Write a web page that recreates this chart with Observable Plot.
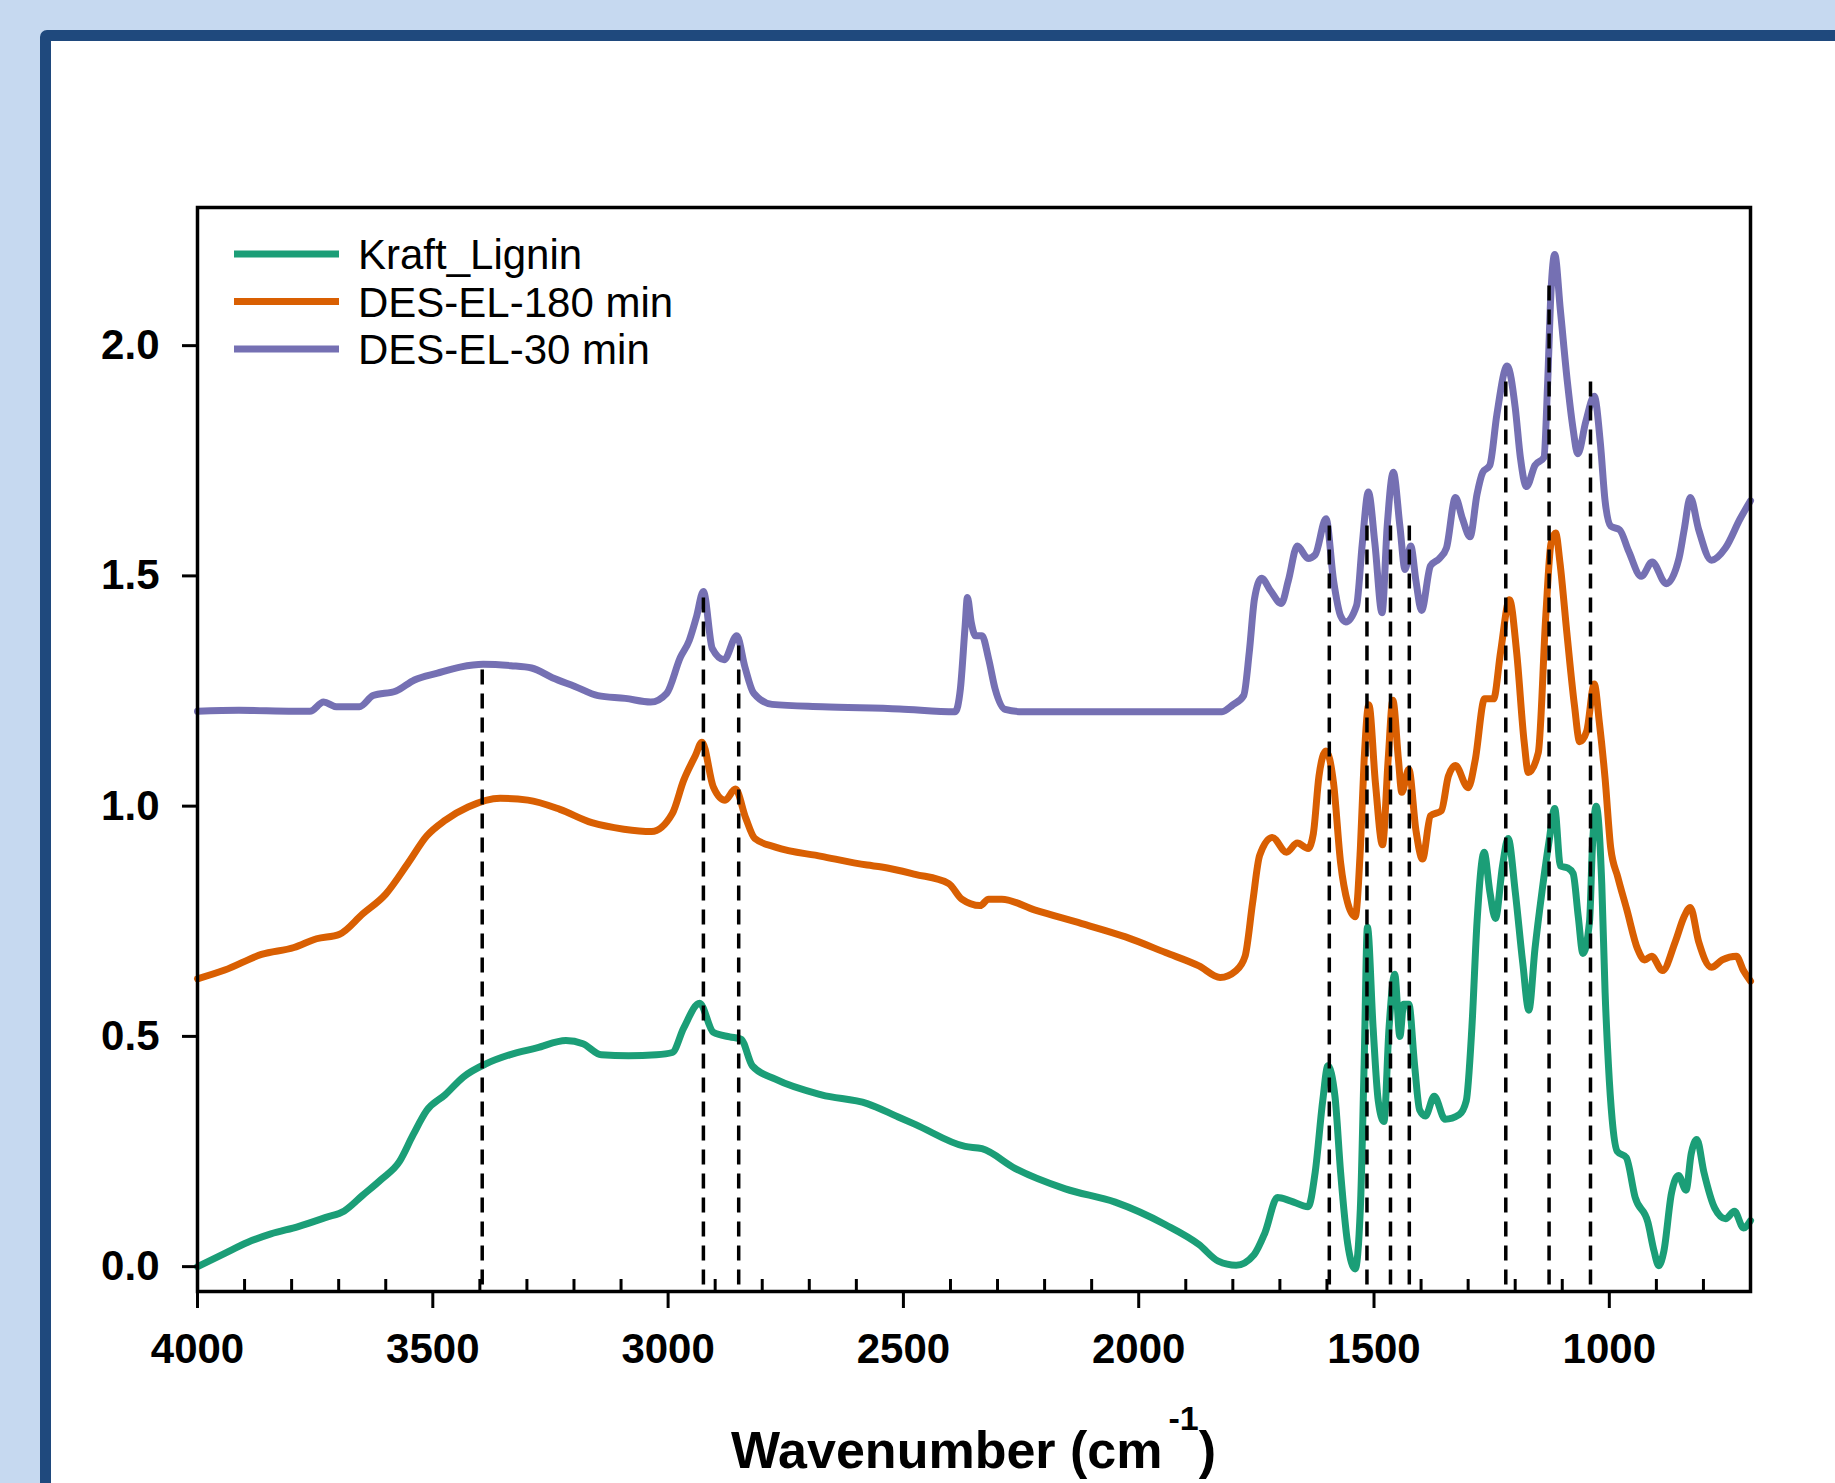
<!DOCTYPE html>
<html><head><meta charset="utf-8">
<script src="https://cdn.jsdelivr.net/npm/d3@7"></script>
<script src="https://cdn.jsdelivr.net/npm/@observablehq/plot@0.6"></script>
<style>
html,body{margin:0;padding:0;background:#c6d9f0;overflow:hidden;width:1835px;height:1483px;}
#panel{position:absolute;left:40px;top:30px;width:2000px;height:2000px;background:#fff;border:11px solid #1f497d;border-radius:7px;}
#chart{position:absolute;left:0;top:0;}
</style></head><body>
<div id="panel"></div>
<div id="chart"></div>
<script>
// ---- data ----
const seriesNames = ["Kraft_Lignin", "DES-EL-180 min", "DES-EL-30 min"];
const seriesColors = ["#1b9e77", "#d95f02", "#7570b3"];

const kraftWn = [4000,3942,3893,3844,3786,3727,3688,3649,3610,3571,3542,3513,3474,3435,3386,3337,3279,3217,3181,3142,3084,3025,2991,2967,2933,2904,2869,2845,2821,2772,2674,2577,2511,2475,2369,2333,2262,2156,2050,1943,1872,1831,1793,1755,1732,1705,1678,1640,1625,1609,1598,1583,1571,1556,1540,1529,1521,1514,1502,1491,1479,1468,1456,1445,1437,1426,1414,1403,1391,1372,1349,1319,1304,1292,1281,1266,1254,1242,1227,1215,1200,1184,1171,1158,1143,1128,1116,1104,1089,1077,1066,1056,1042,1036,1028,1016,1009,1002,994,983,964,945,918,905,895,884,868,853,837,826,814,799,776,753,734,715,700];
const kraftAbs = [0.0,0.029,0.053,0.071,0.087,0.107,0.121,0.155,0.189,0.228,0.286,0.339,0.373,0.412,0.441,0.46,0.475,0.491,0.484,0.46,0.458,0.46,0.465,0.518,0.572,0.509,0.499,0.494,0.436,0.407,0.373,0.354,0.325,0.309,0.261,0.256,0.213,0.169,0.14,0.091,0.048,0.012,0.003,0.026,0.073,0.15,0.143,0.13,0.205,0.36,0.436,0.37,0.205,0.05,-0.005,0.127,0.44,0.737,0.52,0.36,0.315,0.52,0.635,0.50,0.57,0.57,0.44,0.34,0.327,0.37,0.32,0.33,0.36,0.52,0.75,0.90,0.815,0.756,0.87,0.93,0.815,0.66,0.557,0.69,0.815,0.924,0.995,0.87,0.866,0.854,0.76,0.68,0.75,0.91,1.0,0.83,0.596,0.44,0.32,0.25,0.237,0.15,0.096,0.034,0.002,0.034,0.159,0.198,0.166,0.245,0.276,0.205,0.127,0.104,0.12,0.084,0.10];

const des180Wn = [4000,3942,3864,3795,3747,3698,3649,3600,3552,3513,3474,3425,3357,3298,3230,3162,3094,3035,2991,2967,2942,2928,2904,2879,2857,2835,2816,2772,2674,2577,2546,2475,2404,2376,2337,2319,2291,2220,2121,2028,1943,1872,1827,1793,1774,1758,1743,1716,1686,1663,1640,1629,1617,1602,1586,1571,1556,1540,1529,1521,1511,1497,1482,1470,1460,1448,1441,1426,1411,1397,1380,1357,1342,1327,1300,1285,1265,1246,1231,1212,1197,1181,1172,1151,1135,1124,1114,1105,1090,1074,1063,1048,1032,1021,1009,997,982,963,940,925,910,887,860,841,828,810,783,760,730,715,700];
const des180Abs = [0.625,0.644,0.678,0.693,0.712,0.722,0.766,0.809,0.877,0.935,0.969,0.998,1.017,1.013,0.993,0.964,0.95,0.945,0.984,1.056,1.11,1.139,1.042,1.013,1.037,0.974,0.93,0.911,0.891,0.872,0.868,0.852,0.832,0.798,0.784,0.798,0.798,0.774,0.745,0.716,0.682,0.653,0.628,0.643,0.674,0.79,0.893,0.932,0.90,0.92,0.908,0.94,1.065,1.12,1.05,0.877,0.79,0.76,0.908,1.10,1.22,1.05,0.916,1.10,1.23,1.10,1.03,1.08,0.948,0.885,0.979,0.99,1.065,1.088,1.04,1.10,1.233,1.233,1.335,1.448,1.335,1.14,1.073,1.116,1.413,1.57,1.593,1.53,1.374,1.218,1.14,1.163,1.265,1.18,1.06,0.909,0.846,0.776,0.69,0.666,0.674,0.643,0.705,0.76,0.78,0.705,0.65,0.666,0.674,0.643,0.62];

const des30Wn = [4000,3912,3795,3761,3732,3705,3656,3627,3578,3539,3490,3442,3393,3334,3290,3246,3198,3149,3091,3037,3003,2974,2955,2940,2925,2906,2881,2854,2837,2818,2779,2672,2508,2390,2379,2369,2364,2356,2347,2333,2319,2305,2284,2248,1823,1800,1777,1765,1754,1739,1720,1697,1682,1663,1640,1625,1602,1586,1571,1560,1537,1525,1512,1498,1483,1472,1459,1445,1434,1422,1411,1399,1380,1361,1346,1327,1312,1296,1281,1269,1254,1239,1217,1200,1189,1176,1158,1139,1131,1124,1116,1104,1089,1077,1067,1050,1032,1019,1009,997,978,959,932,909,879,852,841,828,810,783,753,722,700];
const des30Abs = [1.206,1.208,1.206,1.206,1.226,1.216,1.216,1.24,1.25,1.274,1.289,1.302,1.308,1.305,1.30,1.279,1.26,1.24,1.234,1.226,1.245,1.323,1.36,1.41,1.466,1.342,1.318,1.37,1.303,1.245,1.221,1.216,1.211,1.205,1.254,1.389,1.453,1.40,1.37,1.37,1.32,1.254,1.21,1.205,1.205,1.22,1.24,1.335,1.45,1.495,1.468,1.44,1.49,1.565,1.538,1.546,1.624,1.49,1.413,1.40,1.436,1.569,1.682,1.569,1.42,1.608,1.725,1.608,1.514,1.565,1.49,1.425,1.522,1.538,1.561,1.67,1.624,1.585,1.678,1.725,1.74,1.85,1.956,1.866,1.757,1.694,1.74,1.757,1.92,2.116,2.198,2.077,1.92,1.819,1.765,1.835,1.89,1.788,1.663,1.608,1.60,1.554,1.499,1.53,1.483,1.538,1.60,1.67,1.60,1.534,1.561,1.624,1.663];

// dashed marker lines: wavenumber, top absorbance
const markerWn = [3395, 2925, 2850, 1595, 1515, 1465, 1425, 1220, 1128, 1040];
const markerTop = [1.30, 1.46, 1.36, 1.62, 1.62, 1.62, 1.62, 1.93, 2.13, 1.93];
const markerBottom = -0.04;

const xMajorTicks = [1000, 1500, 2000, 2500, 3000, 3500, 4000];
const xMinorTicks = d3.range(800, 4000, 100).filter(d => d % 500 !== 0);
const yTicks = [0, 0.5, 1.0, 1.5, 2.0];
const xLabelMain = "Wavenumber (cm";
const xLabelSup = "-1";
const xLabelEnd = ")";

// ---- build tables ----
const rows = [];
[[kraftWn, kraftAbs], [des180Wn, des180Abs], [des30Wn, des30Abs]].forEach(([w, a], i) => {
  w.forEach((wn, j) => rows.push({series: seriesNames[i], wn, abs: a[j]}));
});
const markers = markerWn.map((wn, i) => ({wn, top: markerTop[i]}));

const W = 1835, H = 1483;
const mL = 197, mR = 85, mT = 207, mB = 192;
const plotH = H - mT - mB;

const chart = Plot.plot({
  width: W, height: H,
  marginLeft: mL, marginRight: mR, marginTop: mT, marginBottom: mB,
  style: {background: "transparent", fontFamily: "'Liberation Sans', Arial, sans-serif", overflow: "visible", color: "black"},
  x: {domain: [4000, 700]},
  y: {domain: [-0.054, 2.30]},
  color: {domain: seriesNames, range: seriesColors},
  marks: [
    Plot.line(rows, {x: "wn", y: "abs", z: "series", stroke: "series", strokeWidth: 7, curve: "monotone-x", strokeLinejoin: "round", strokeLinecap: "round"}),
    Plot.ruleX(markers, {x: "wn", y1: markerBottom, y2: "top", stroke: "black", strokeWidth: 3.5, strokeDasharray: "15,9"}),
    Plot.tickX(xMinorTicks, {x: d => d, stroke: "black", strokeWidth: 3, insetTop: plotH - 12}),
    Plot.frame({stroke: "black", strokeWidth: 3.5}),
    Plot.axisX({ticks: xMajorTicks, tickSize: 17, tickPadding: 25, tickFormat: d => String(d), fontSize: 42, fontWeight: "bold", strokeWidth: 3, label: null}),
    Plot.axisY({ticks: yTicks, tickSize: 15, tickPadding: 23, tickFormat: d3.format(".1f"), fontSize: 42, fontWeight: "bold", strokeWidth: 3, label: null})
  ]
});
document.getElementById("chart").appendChild(chart);

// ---- legend (inside the frame, top-left) ----
const svg = d3.select(chart);
const lg = svg.append("g")
  .attr("font-family", "'Liberation Sans', Arial, sans-serif")
  .attr("font-size", 42)
  .attr("text-anchor", "start");
seriesNames.forEach((name, i) => {
  const y = 254 + i * 47.5;
  lg.append("line").attr("x1", 234).attr("x2", 339).attr("y1", y).attr("y2", y)
    .attr("stroke", seriesColors[i]).attr("stroke-width", 7);
  lg.append("text").attr("x", 358).attr("y", y).attr("dy", "0.36em")
    .attr("text-anchor", "start").attr("fill", "black").text(name);
});

// ---- x axis title with superscript ----
const t = svg.append("text")
  .attr("x", (mL + W - mR) / 2).attr("y", 1468)
  .attr("text-anchor", "middle")
  .attr("font-family", "'Liberation Sans', Arial, sans-serif")
  .attr("font-weight", "bold").attr("font-size", 52).attr("fill", "black");
t.append("tspan").text(xLabelMain);
t.append("tspan").attr("font-size", 34).attr("dy", -38).attr("dx", 6).text(xLabelSup);
t.append("tspan").attr("dy", 38).text(xLabelEnd);
</script>
</body></html>
